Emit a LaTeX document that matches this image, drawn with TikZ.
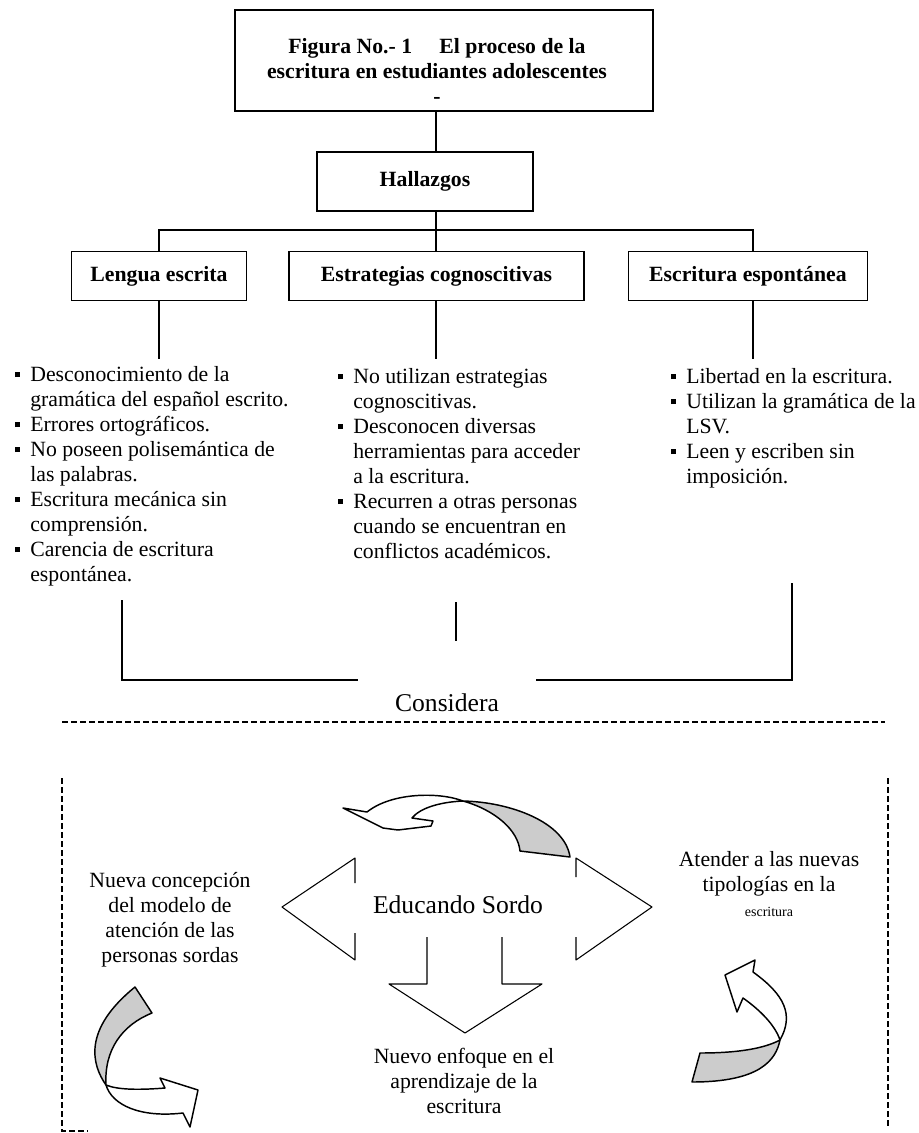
\documentclass[tikz,border=0pt]{standalone}
\usepackage{fontspec}
\setmainfont{Liberation Serif}
\usetikzlibrary{positioning}
\definecolor{cinta}{RGB}{204,204,204}
\tikzset{
  every node/.style={text=black, font=\fontsize{16.3}{18.75}\selectfont},
  box/.style={draw=black, line width=1.5pt, inner sep=0pt, font=\fontsize{16.3}{18.75}\selectfont\bfseries},
  subbox/.style={box, line width=1.1pt},
  conn/.style={draw=black, line width=1.5pt},
  lista/.style={inner sep=0pt, anchor=base west},
  dashline/.style={draw=black, line width=1.5pt, dash pattern=on 4.5pt off 2.25pt},
  ribbon/.style={draw=black, line width=1.1pt, line join=round},
  flecha/.style={draw=black, line width=0.8pt, line join=round}
}
\newcommand{\bul}{\rule[3pt]{3.8pt}{3.8pt}}

\begin{document}
\begin{tikzpicture}[x=0.75pt, y=-0.75pt]
  \useasboundingbox (0,0) rectangle (919,1133);

  % Nodes
  \node (titulo) [box, minimum width=313.5pt, minimum height=75.75pt] at (444,60.5) {
    \raisebox{-9.4pt}[\height][\depth]{\hspace*{-10.5pt}\begin{tabular}{c}
      Figura No.- 1\quad\ El proceso de la\\
      escritura en estudiantes adolescentes\\
      -
    \end{tabular}}
  };
  \node (hallazgos) [box, below=29.25pt of titulo, xshift=-14.25pt, minimum width=162pt, minimum height=44.25pt] {Hallazgos};
  \node (estrategias) [subbox, below=29.25pt of hallazgos, xshift=8.6pt, minimum width=221.25pt, minimum height=36.75pt] {Estrategias cognoscitivas};
  \node (lengua) [subbox, left=30.75pt of estrategias, minimum width=131.25pt, minimum height=36.75pt] {Lengua escrita};
  \node (espontanea) [subbox, right=32.25pt of estrategias, minimum width=179.25pt, minimum height=36.75pt] {Escritura espontánea};

  \node (lista1) [lista] at (15,381) {
    \begin{tabular}[t]{@{}l@{\hspace{7.5pt}}l@{}}
      \bul & Desconocimiento de la\\
           & gramática del español escrito.\\
      \bul & Errores ortográficos.\\
      \bul & No poseen polisemántica de\\
           & las palabras.\\
      \bul & Escritura mecánica sin\\
           & comprensión.\\
      \bul & Carencia de escritura\\
           & espontánea.
    \end{tabular}
  };
  \node (lista2) [lista] at (338,383) {
    \begin{tabular}[t]{@{}l@{\hspace{7.5pt}}l@{}}
      \bul & No utilizan estrategias\\
           & cognoscitivas.\\
      \bul & Desconocen diversas\\
           & herramientas para acceder\\
           & a la escritura.\\
      \bul & Recurren a otras personas\\
           & cuando se encuentran en\\
           & conflictos académicos.
    \end{tabular}
  };
  \node (lista3) [lista] at (671,383) {
    \begin{tabular}[t]{@{}l@{\hspace{7.5pt}}l@{}}
      \bul & Libertad en la escritura.\\
      \bul & Utilizan la gramática de la\\
           & LSV.\\
      \bul & Leen y escriben sin\\
           & imposición.
    \end{tabular}
  };

  \node (considera) [font=\fontsize{19.2}{22}\selectfont] at (447,703) {Considera};
  \node (educando) [font=\fontsize{19.2}{22}\selectfont] at (458,905) {Educando Sordo};
  \node (concepcion) at (170,920) {
    \begin{tabular}{c} Nueva concepción\\ del modelo de\\ atención de las\\ personas sordas \end{tabular}
  };
  \node (tipologias) at (769,886) {
    \begin{tabular}{c} Atender a las nuevas\\ tipologías en la\\ {\fontsize{10.5}{12}\selectfont escritura} \end{tabular}
  };
  \node (enfoque) at (464,1083) {
    \begin{tabular}{c} Nuevo enfoque en el\\ aprendizaje de la\\ escritura \end{tabular}
  };

  % Tree connectors
  \coordinate (barra) at (0,230);
  \draw[conn] ([xshift=-6pt]titulo.south) -- ([xshift=-6pt]titulo.south |- hallazgos.north);
  \draw[conn] (estrategias.north |- hallazgos.south) -- (estrategias.north);
  \draw[conn] (lengua.north) -- (lengua.north |- barra) -- ([xshift=4pt]espontanea.north |- barra) -- ([xshift=4pt]espontanea.north);
  \draw[conn] (lengua.south) -- ++(0,58);
  \draw[conn] (estrategias.south) -- ++(0,58);
  \draw[conn] ([xshift=4pt]espontanea.south) -- ++(0,58);

  % Bracket towards Considera
  \draw[conn, line width=1.2pt] (122,600) -- (122,680) -- (358,680);
  \draw[conn, line width=1.2pt] (536,680) -- (792,680) -- (792,583);
  \draw[conn, line width=1.2pt] (456,602) -- (456,641);
  \draw[dashline] (62,722) -- (885,722);

  % Frame
  \draw[dashline] (62,778) -- (62,1131) -- (88,1131);
  \draw[dashline] (888,778) -- (888,1128);

  % Three-way arrow
  \draw[flecha] (355,883) -- (355,858) -- (282,907) -- (355,960) -- (355,933);
  \draw[flecha] (576,877) -- (576,858) -- (652,907) -- (576,960) -- (576,937);
  \draw[flecha] (427,937) -- (427,984) -- (389,984) -- (465,1033) -- (542,984) -- (502,984) -- (502,937);

  % Curved arrows
  \filldraw[ribbon, fill=cinta] (463,801) .. controls (510,802) and (565,822) .. (570,857)
    -- (520,851) .. controls (518,830) and (495,810) .. (463,801) -- cycle;
  \filldraw[ribbon, fill=white] (343,808) -- (367,812) .. controls (392,792) and (440,792) .. (463,801)
    .. controls (440,802) and (420,808) .. (412,818) -- (433,821) -- (431,826) -- (398,830) -- (383,828) -- cycle;

  \filldraw[ribbon, fill=cinta] (135,987) -- (152,1013) .. controls (122,1025) and (104,1050) .. (106,1085)
    .. controls (92,1065) and (82,1030) .. (135,987) -- cycle;
  \filldraw[ribbon, fill=white] (106,1085) .. controls (112,1105) and (140,1118) .. (183,1113)
    -- (190,1127) -- (198,1090) -- (160,1078) -- (165,1088) .. controls (140,1090) and (118,1090) .. (106,1085) -- cycle;

  \filldraw[ribbon, fill=cinta] (780,1040) .. controls (776,1060) and (760,1082) .. (692,1082)
    -- (700,1053) .. controls (740,1053) and (765,1048) .. (780,1040) -- cycle;
  \filldraw[ribbon, fill=white] (780,1040) .. controls (794,1015) and (785,995) .. (753,972)
    -- (755,960) -- (725,975) -- (737,1012) -- (743,998) .. controls (760,1010) and (775,1025) .. (780,1040) -- cycle;
\end{tikzpicture}
\end{document}
